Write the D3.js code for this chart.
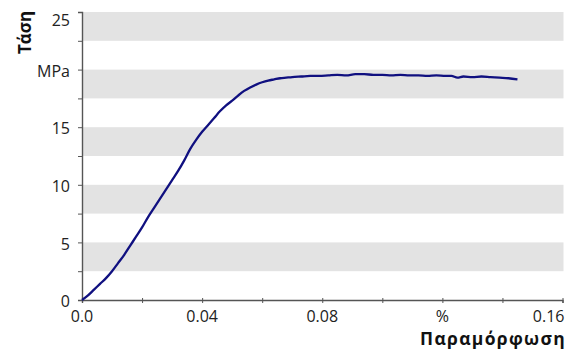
<!DOCTYPE html>
<html><head><meta charset="utf-8">
<script src="https://cdn.jsdelivr.net/npm/d3@7"></script>
<style>body{margin:0;background:#fff}svg{display:block}text{font-family:"Open Sans",Lato,sans-serif}</style>
</head><body><svg id="c" width="569" height="351"></svg>
<script>
const strain = [0,0.002,0.004,0.006,0.008,0.010,0.012,0.014,0.016,0.018,0.020,0.022,0.024,0.026,0.028,0.030,0.032,0.034,0.036,0.038,0.040,0.042,0.044,0.046,0.048,0.050,0.052,0.054,0.056,0.058,0.060,0.062,0.064,0.066,0.068,0.070,0.073,0.076,0.079,0.082,0.085,0.088,0.091,0.094,0.097,0.100,0.103,0.106,0.109,0.112,0.115,0.118,0.121,0.123,0.125,0.127,0.130,0.133,0.136,0.139,0.142,0.145];
const stress = [0,0.4,0.9,1.4,1.9,2.5,3.2,3.9,4.7,5.5,6.3,7.2,8.0,8.8,9.6,10.4,11.2,12.1,13.1,13.9,14.6,15.2,15.8,16.4,16.9,17.3,17.75,18.15,18.45,18.7,18.9,19.05,19.15,19.25,19.3,19.35,19.4,19.45,19.45,19.5,19.55,19.5,19.6,19.6,19.55,19.55,19.5,19.55,19.5,19.5,19.45,19.5,19.45,19.45,19.3,19.4,19.35,19.4,19.35,19.3,19.25,19.15];
const yTickValues = [0,5,10,15,20,25];
const yTickLabels = ["0","5","10","15","MPa","25"];
const xTickValues = [0,0.04,0.08,0.12,0.16];
const xTickLabels = ["0.0","0.04","0.08","%","0.16"];
const yTitle = "Τάση";
const xTitle = "Παραμόρφωση";

const svg = d3.select("#c");
const x = d3.scaleLinear().domain([0,0.16]).range([82,562.5]);
const y = d3.scaleLinear().domain([0,25]).range([300,12]);

// bands
const bands = [[2.5,5],[7.5,10],[12.5,15],[17.5,20],[22.5,25]];
svg.selectAll("rect.band").data(bands).join("rect")
  .attr("x", x(0)).attr("width", x(0.16)-x(0)+1)
  .attr("y", d=>y(d[1])).attr("height", d=>y(d[0])-y(d[1]))
  .attr("fill","#e3e3e3");

// y axis
const yAxis = d3.axisLeft(y).tickValues(d3.range(0,25.01,2.5)).tickSize(4).tickFormat("");
const gy = svg.append("g").attr("transform",`translate(${x(0)},0)`).call(yAxis);
gy.select(".domain").attr("stroke","#555").attr("stroke-width",1.4);
gy.selectAll(".tick line").attr("stroke","#555");
svg.selectAll("text.yl").data(yTickValues).join("text")
  .attr("x",70).attr("y",d=> d===25 ? 20 : y(d)+1.5).attr("dy","0.36em").attr("text-anchor","end")
  .attr("font-size",16).attr("fill","#222").text((d,i)=>yTickLabels[i]);

// x axis
const xAxis = d3.axisBottom(x).tickValues(d3.range(0,0.1601,0.02)).tickSize(3).tickFormat("");
const gx = svg.append("g").attr("transform",`translate(0,${y(0)})`).call(xAxis);
gx.select(".domain").attr("stroke","#555").attr("stroke-width",1.4);
gx.selectAll(".tick line").attr("stroke","#555").attr("y1",-2);
svg.selectAll("text.xl").data(xTickValues).join("text")
  .attr("x",(d,i)=> i===xTickValues.length-1 ? x(d)+2 : x(d)).attr("y",321.5)
  .attr("text-anchor",(d,i)=> i===xTickValues.length-1 ? "end":"middle")
  .attr("font-size",16).attr("fill","#222").text((d,i)=>xTickLabels[i]);

// titles
svg.append("text").attr("transform","translate(31,32.5) rotate(-90)")
  .attr("text-anchor","middle").attr("font-size",17).attr("font-weight","bold").attr("fill","#111").text(yTitle);
svg.append("text").attr("x",566).attr("y",345).attr("text-anchor","end")
  .attr("font-size",17.5).attr("letter-spacing","1.3px").attr("font-weight","bold").attr("fill","#111").text(xTitle);

// line
const pts = strain.map((s,i)=>[s,stress[i]]);
svg.append("path").datum(pts)
  .attr("d", d3.line().curve(d3.curveMonotoneX).x(d=>x(d[0])).y(d=>y(d[1])))
  .attr("fill","none").attr("stroke","#101080").attr("stroke-width",2.3).attr("stroke-linejoin","round");
</script></body></html>
